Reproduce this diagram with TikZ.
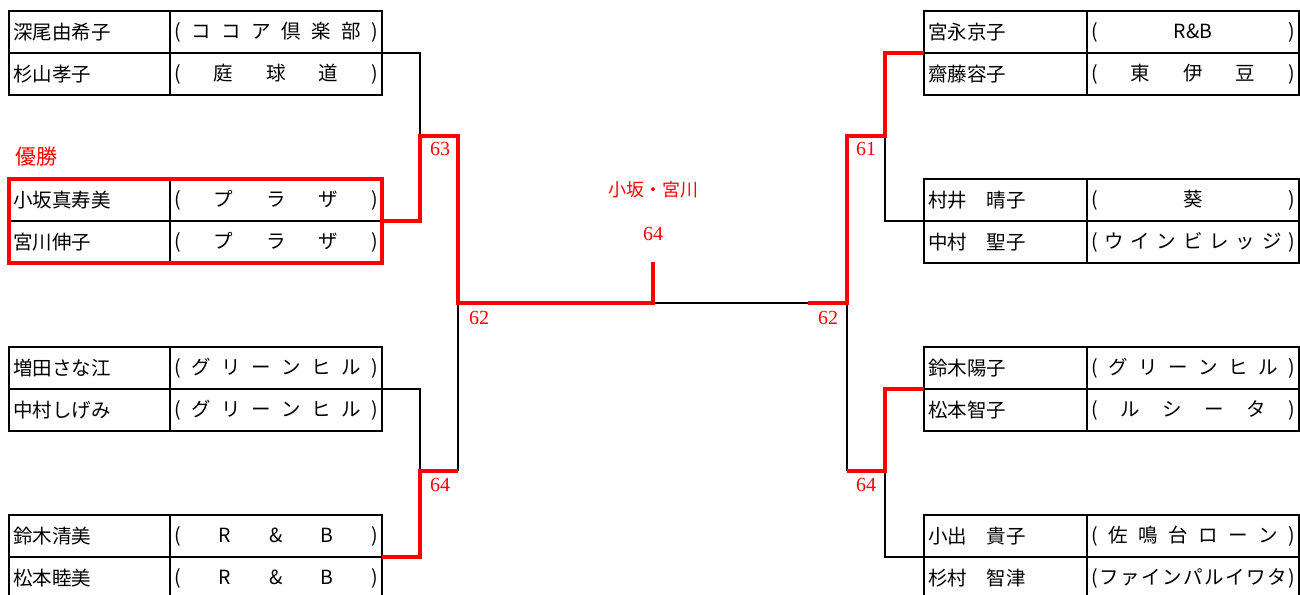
\documentclass[tikz,border=0pt]{standalone}
\usepackage{fontspec}
\setmainfont{Noto Sans CJK JP}
\newfontfamily\numfont{Liberation Serif}
\usepackage{tikz}
\usetikzlibrary{positioning}
\definecolor{winred}{RGB}{255,0,0}
\newcommand{\spreadclub}[1]{\hbox to 204pt{#1}}

\begin{document}
\begin{tikzpicture}[x=1pt,y=-1pt, every node/.style={font=\fontsize{19.5}{21}\selectfont}]
\tikzstyle{namecell}=[draw,line width=1.8pt,rectangle,anchor=north west,text width=153pt,inner xsep=4pt,inner ysep=0pt,minimum height=42pt,align=left,outer sep=0pt]
\tikzstyle{clubcell}=[draw,line width=1.8pt,rectangle,inner xsep=4pt,inner ysep=0pt,minimum height=42pt,minimum width=212pt,outer sep=0pt]
\tikzstyle{wire}=[line width=1.8pt]
\tikzstyle{winwire}=[winred,line width=3.4pt]
\tikzstyle{score}=[winred,font=\numfont\fontsize{20}{22}\selectfont]
\tikzstyle{redtext}=[winred]
\useasboundingbox (0,0) rectangle (1300,594);

% left side
\node[namecell] (a1) at (9,11) {深尾由希子};
\node[namecell,below=0pt of a1] (a2) {杉山孝子};
\node[namecell] (a3) at (9,179) {小坂真寿美};
\node[namecell,below=0pt of a3] (a4) {宮川伸子};
\node[namecell] (a5) at (9,347) {増田さな江};
\node[namecell,below=0pt of a5] (a6) {中村しげみ};
\node[namecell] (a7) at (9,515) {鈴木清美};
\node[namecell,below=0pt of a7] (a8) {松本睦美};
\node[clubcell,right=0pt of a1] (a1c) {\spreadclub{(\hfill コ\hfill コ\hfill ア\hfill 倶\hfill 楽\hfill 部\hfill )}};
\node[clubcell,right=0pt of a2] (a2c) {\spreadclub{(\hfill 庭\hfill 球\hfill 道\hfill )}};
\node[clubcell,right=0pt of a3] (a3c) {\spreadclub{(\hfill プ\hfill ラ\hfill ザ\hfill )}};
\node[clubcell,right=0pt of a4] (a4c) {\spreadclub{(\hfill プ\hfill ラ\hfill ザ\hfill )}};
\node[clubcell,right=0pt of a5] (a5c) {\spreadclub{(\hfill グ\hfill リ\hfill ー\hfill ン\hfill ヒ\hfill ル\hfill )}};
\node[clubcell,right=0pt of a6] (a6c) {\spreadclub{(\hfill グ\hfill リ\hfill ー\hfill ン\hfill ヒ\hfill ル\hfill )}};
\node[clubcell,right=0pt of a7] (a7c) {\spreadclub{(\hfill R\hfill \&\hfill B\hfill )}};
\node[clubcell,right=0pt of a8] (a8c) {\spreadclub{(\hfill R\hfill \&\hfill B\hfill )}};

% right side
\node[namecell,text width=155pt] (b1) at (924,11) {宮永京子};
\node[namecell,text width=155pt,below=0pt of b1] (b2) {齋藤容子};
\node[namecell,text width=155pt] (b3) at (924,179) {村井　晴子};
\node[namecell,text width=155pt,below=0pt of b3] (b4) {中村　聖子};
\node[namecell,text width=155pt] (b5) at (924,347) {鈴木陽子};
\node[namecell,text width=155pt,below=0pt of b5] (b6) {松本智子};
\node[namecell,text width=155pt] (b7) at (924,515) {小出　貴子};
\node[namecell,text width=155pt,below=0pt of b7] (b8) {杉村　智津};
\node[clubcell,right=0pt of b1] (b1c) {\spreadclub{(\hfill R\&B\hfill )}};
\node[clubcell,right=0pt of b2] (b2c) {\spreadclub{(\hfill 東\hfill 伊\hfill 豆\hfill )}};
\node[clubcell,right=0pt of b3] (b3c) {\spreadclub{(\hfill 葵\hfill )}};
\node[clubcell,right=0pt of b4] (b4c) {\spreadclub{(\hfill ウ\hfill イ\hfill ン\hfill ビ\hfill レ\hfill ッ\hfill ジ\hfill )}};
\node[clubcell,right=0pt of b5] (b5c) {\spreadclub{(\hfill グ\hfill リ\hfill ー\hfill ン\hfill ヒ\hfill ル\hfill )}};
\node[clubcell,right=0pt of b6] (b6c) {\spreadclub{(\hfill ル\hfill シ\hfill ー\hfill タ\hfill )}};
\node[clubcell,right=0pt of b7] (b7c) {\spreadclub{(\hfill 佐\hfill 鳴\hfill 台\hfill ロ\hfill ー\hfill ン\hfill )}};
\node[clubcell,right=0pt of b8] (b8c) {\spreadclub{(\hfill フ\hfill ァ\hfill イ\hfill ン\hfill パ\hfill ル\hfill イ\hfill ワ\hfill タ\hfill )}};

% bracket joints
\coordinate (j63) at (420,136);
\coordinate (k63) at (458,136);
\coordinate (j64L) at (420,471);
\coordinate (k64L) at (458,471);
\coordinate (s62L) at (458,303);
\coordinate (fin) at (653,303);
\coordinate (fintop) at (653,262);
\coordinate (stubR) at (808,303);
\coordinate (s62R) at (847,303);
\coordinate (j61) at (885,136);
\coordinate (k61) at (847,136);
\coordinate (j64R) at (885,471);
\coordinate (k64R) at (847,471);

\draw[wire] (a1c.south east) -| (j63);
\draw[wire] (a5c.south east) -| (j64L);
\draw[wire] (k64L) -- (s62L);
\draw[wire] (fin) -- (stubR);
\draw[wire] (b3.south west) -| (j61);
\draw[wire] (b7.south west) -| (j64R);
\draw[wire] (k64R) -- (s62R);

\draw[winwire] (a3.north west) rectangle (a4c.south east);
\draw[winwire] (a3c.south east) -| (j63) -- (k63) -- (s62L) -- (fin) -- (fintop);
\draw[winwire] (a7c.south east) -| (j64L) -- (k64L);
\draw[winwire] (b1.south west) -| (j61) -- (k61) -- (s62R) -- (stubR);
\draw[winwire] (b5.south west) -| (j64R) -- (k64R);

% labels
\node[redtext,font=\fontsize{21}{23}\selectfont] (champ) at (36,157) {優勝};
\node[redtext,font=\fontsize{18}{20}\selectfont] (winner) at (653,190) {小坂・宮川};
\node[score] (sfin) at (653,234) {64};
\node[score] (s63) at (440,149) {63};
\node[score] (s64a) at (440,485) {64};
\node[score] (s62a) at (479,318) {62};
\node[score] (s61) at (866,149) {61};
\node[score] (s64b) at (866,485) {64};
\node[score] (s62b) at (828,318) {62};
\end{tikzpicture}
\end{document}
